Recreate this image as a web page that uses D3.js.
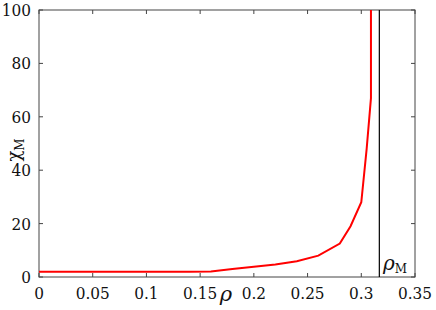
<!DOCTYPE html>
<html><head><meta charset="utf-8">
<script src="https://cdn.jsdelivr.net/npm/d3@7"></script>
<style>body{margin:0;background:#fff}svg{display:block}</style>
</head><body><svg id="c" width="436" height="310"></svg>
<script>
const rho = [0, 0.02, 0.04, 0.06, 0.08, 0.10, 0.12, 0.14, 0.16, 0.18, 0.20, 0.22, 0.24, 0.26, 0.28, 0.29, 0.30, 0.305, 0.309, 0.309];
const chi = [2, 2, 2, 2, 2, 2, 2, 2, 2.1, 3, 3.8, 4.7, 5.9, 8, 12.5, 19, 28, 48, 67, 110];
const rhoM = 0.3168;
const xTicks = [0, 0.05, 0.1, 0.15, 0.2, 0.25, 0.3, 0.35];
const yTicks = [0, 20, 40, 60, 80, 100];

const svg = d3.select("#c");
const L = 39, R = 415, T = 10, B = 277;
const x = d3.scaleLinear().domain([0, 0.35]).range([L, R]);
const y = d3.scaleLinear().domain([0, 100]).range([B, T]);
const FF = "DejaVu Serif Condensed";
const FF2 = "DejaVu Serif";

svg.append("defs").append("clipPath").attr("id","cp").append("rect")
  .attr("x",L).attr("y",T).attr("width",R-L).attr("height",B-T);

const tl = 4, axCol = "#444";
yTicks.forEach(v=>{
  svg.append("line").attr("x1",L).attr("x2",L+tl).attr("y1",y(v)).attr("y2",y(v)).attr("stroke",axCol);
  svg.append("line").attr("x1",R).attr("x2",R-tl).attr("y1",y(v)).attr("y2",y(v)).attr("stroke",axCol);
  svg.append("text").attr("x",31).attr("y",y(v)+6).attr("text-anchor","end").attr("font-size",17).attr("font-family",FF).attr("fill","#111").text(v);
});
xTicks.forEach(v=>{
  svg.append("line").attr("x1",x(v)).attr("x2",x(v)).attr("y1",B).attr("y2",B-tl).attr("stroke",axCol);
  svg.append("line").attr("x1",x(v)).attr("x2",x(v)).attr("y1",T).attr("y2",T+tl).attr("stroke",axCol);
  svg.append("text").attr("x",x(v)).attr("y",299).attr("text-anchor","middle").attr("font-size",17).attr("font-family",FF).attr("fill","#111").text(v);
});
svg.append("rect").attr("x",L).attr("y",T).attr("width",R-L).attr("height",B-T)
  .attr("fill","none").attr("stroke",axCol).attr("stroke-width",1);

svg.append("line").attr("x1",x(rhoM)).attr("x2",x(rhoM)).attr("y1",T).attr("y2",B).attr("stroke","#000").attr("stroke-width",1.2);

const line = d3.line().x((d,i)=>x(rho[i])).y((d,i)=>y(chi[i]));
svg.append("path").datum(rho).attr("d",line).attr("clip-path","url(#cp)")
  .attr("fill","none").attr("stroke","#ff0000").attr("stroke-width",2);

const yl = svg.append("text").attr("transform","translate(20,150) rotate(-90)").attr("text-anchor","middle").attr("font-size",18).attr("font-family",FF2).attr("fill","#111");
yl.append("tspan").text("χ");
yl.append("tspan").attr("font-size",12).attr("dy",4).text("M");

svg.append("text").attr("x",226).attr("y",301).attr("text-anchor","middle").attr("font-size",21).attr("font-style","italic").attr("font-family",FF2).attr("fill","#111").text("ρ");

const rl = svg.append("text").attr("x",383).attr("y",270).attr("font-size",20).attr("font-family",FF2).attr("fill","#111");
rl.append("tspan").attr("font-style","italic").text("ρ");
rl.append("tspan").attr("font-size",12).attr("dy",3).text("M");
</script></body></html>
